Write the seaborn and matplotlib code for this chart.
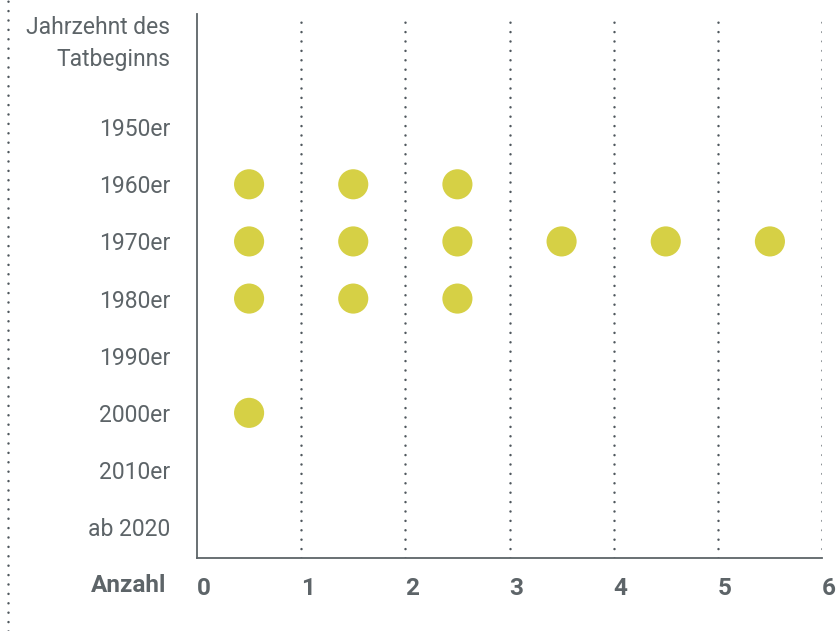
import pandas as pd
import matplotlib.pyplot as plt
import seaborn as sns
from matplotlib.lines import Line2D

# Data
decades = ["1950er", "1960er", "1970er", "1980er", "1990er", "2000er", "2010er", "ab 2020"]
counts = [0, 3, 6, 3, 0, 1, 0, 0]
x_ticks = [0, 1, 2, 3, 4, 5, 6]

header = "Jahrzehnt des\nTatbeginns"
x_title = "Anzahl"

dot_color = "#d6d045"
text_color = "#5d6468"
grid_color = "#4f575d"

# one dot per case, centred in each unit cell
rows = []
for pos, (dec, n) in enumerate(zip(decades, counts)):
    for i in range(n):
        rows.append({"decade": dec, "pos": pos, "x": i + 0.5})
df = pd.DataFrame(rows)

sns.set_style("white")
plt.rcParams["font.family"] = ["Roboto", "DejaVu Sans"]

fig = plt.figure(figsize=(8.38, 6.31), dpi=100)
ax = fig.add_axes([197 / 838, 1 - 558 / 631, (822 - 197) / 838, (558 - 14) / 631])

dotted = (0, (0.01, 3.75))

# dotted vertical grid lines
for t in x_ticks[1:]:
    ax.axvline(t, color=grid_color, linestyle=dotted, linewidth=1.8,
               dash_capstyle="round", zorder=1)

sns.scatterplot(data=df, x="x", y="pos", color=dot_color, s=470, edgecolor="none",
                legend=False, ax=ax, zorder=3)

ax.set_xlim(0, 6)
ax.set_ylim(7.54, -1.98)
ax.set_yticks(range(len(decades)))
ax.set_yticklabels(decades)
ax.set_xticks(x_ticks)
ax.set_xticklabels([str(t) for t in x_ticks])
for lbl in ax.get_xticklabels():
    lbl.set_horizontalalignment("left")
    lbl.set_fontweight("bold")
ax.tick_params(axis="y", length=0, pad=19, labelsize=16.5, labelcolor=text_color)
ax.tick_params(axis="x", length=0, pad=14, labelsize=17.5, labelcolor=text_color)
ax.set_xlabel("")
ax.set_ylabel("")

for side in ["top", "right"]:
    ax.spines[side].set_visible(False)
for side in ["left", "bottom"]:
    ax.spines[side].set_color(text_color)
    ax.spines[side].set_linewidth(1.3)

# header above the category labels
ax.text(-27 / 104, -1.47, header, ha="right", va="center", fontsize=16.5,
        color=text_color, linespacing=1.5,
        transform=ax.transData, clip_on=False)
fig.text(166 / 838, 1 - 586 / 631, x_title, ha="right", va="center", fontsize=17.5,
         color=text_color, fontweight="bold")

# dotted line along the left edge of the figure
fig.add_artist(Line2D([7.5 / 838, 7.5 / 838], [0, 1], transform=fig.transFigure,
                      color=grid_color, linestyle=dotted, linewidth=1.8,
                      dash_capstyle="round"))

fig.savefig("out.png", dpi=100)
